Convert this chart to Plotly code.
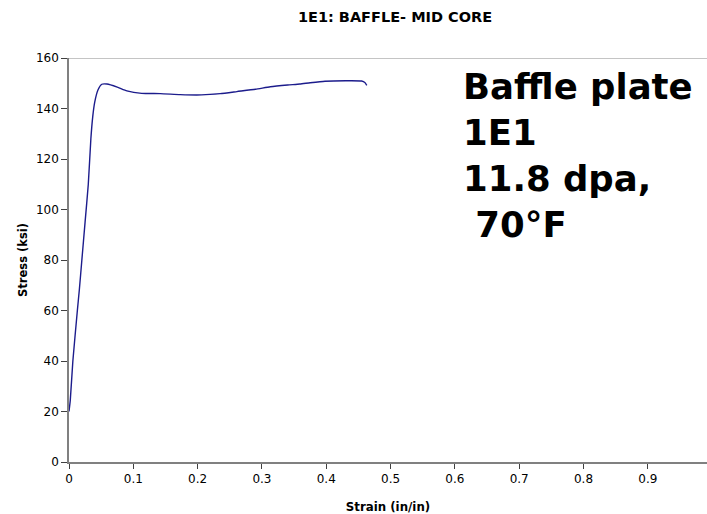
import plotly.graph_objects as go

strain = [0.0, 0.002, 0.006, 0.013, 0.016, 0.020, 0.025, 0.030, 0.034, 0.037, 0.040, 0.045,
          0.051, 0.059, 0.075, 0.090, 0.113, 0.142, 0.173, 0.206, 0.235, 0.261, 0.290, 0.313,
          0.340, 0.359, 0.375, 0.398, 0.430, 0.455, 0.460, 0.463]
stress = [20, 24.5, 40, 60, 68, 80, 95, 110, 128, 137, 142.5, 147.3,
          149.6, 149.7, 148.5, 147.0, 146.0, 145.9, 145.5, 145.4, 145.9, 146.7, 147.6, 148.6,
          149.3, 149.7, 150.2, 150.8, 151.0, 150.9, 150.3, 149.2]

x_ticks = [0, 0.1, 0.2, 0.3, 0.4, 0.5, 0.6, 0.7, 0.8, 0.9]
x_tick_labels = ["0", "0.1", "0.2", "0.3", "0.4", "0.5", "0.6", "0.7", "0.8", "0.9"]
y_ticks = [0, 20, 40, 60, 80, 100, 120, 140, 160]

title_text = "1E1: BAFFLE- MID CORE"
note_lines = ["Baffle plate", "1E1", "11.8 dpa,", "\u00a070°F"]

W, H = 707, 514
L, R, T, B = 69, 0, 58, 52
FONT = "DejaVu Sans, Verdana, sans-serif"

fig = go.Figure()
fig.add_trace(go.Scatter(x=strain, y=stress, mode="lines",
                         line=dict(color="#1c1c8c", width=1.4, shape="spline", smoothing=0.5),
                         showlegend=False, hoverinfo="skip"))

fig.update_layout(
    width=W, height=H,
    margin=dict(l=L, r=R, t=T, b=B, autoexpand=False),
    paper_bgcolor="white", plot_bgcolor="white",
    font=dict(family=FONT, color="black", size=12),
    title=dict(text="<b>" + title_text + "</b>", x=395 / W, xanchor="center",
               y=1 - 17 / H, yanchor="middle", font=dict(size=14.5), automargin=False),
    xaxis=dict(range=[0, 0.992], tickvals=x_ticks, ticktext=x_tick_labels, automargin=False,
               showgrid=False, zeroline=False, showline=True, linecolor="#808080", linewidth=1.5,
               ticks="outside", ticklen=5, tickcolor="#404040", tickfont=dict(size=12),
               title=dict(text="<b>Strain (in/in)</b>", font=dict(size=11.8), standoff=25)),
    yaxis=dict(range=[0, 160], tickvals=y_ticks, automargin=False,
               showgrid=False, zeroline=False, showline=True, linecolor="#808080", linewidth=1.5,
               ticks="outside", ticklen=6, tickcolor="#404040", tickfont=dict(size=12),
               title=dict(text="<b>Stress (ksi)</b>", font=dict(size=11.5), standoff=6)),
)

# top border line of plot area at 160
fig.add_shape(type="line", xref="paper", yref="y", x0=0, x1=1, y0=160, y1=160,
              line=dict(color="#b0b0b0", width=1.5))

plot_w = W - L - R
plot_h = H - T - B
fig.add_annotation(text="<b>" + "<br>".join(note_lines) + "</b>", xref="paper", yref="paper",
                   x=(461 - L) / plot_w, y=((H - B) - 64) / plot_h,
                   xanchor="left", yanchor="top", align="left", showarrow=False,
                   font=dict(family="DejaVu Sans", size=35.5, color="black"))

fig.write_html("out.html", config={"displayModeBar": False},
               post_script="document.body.style.margin='0';document.body.style.overflow='hidden';")
